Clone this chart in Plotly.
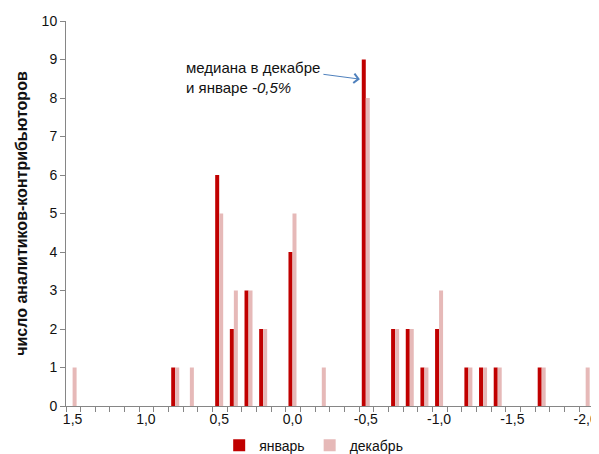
import plotly.graph_objects as go

# Forecast values (x axis, reversed) and number of analysts
x_vals = [1.5, 0.8, 0.7, 0.5, 0.4, 0.3, 0.2, 0.0, -0.2, -0.5, -0.7, -0.8, -0.9, -1.0, -1.2, -1.3, -1.4, -1.7, -2.0]
jan = [0, 1, 0, 6, 2, 3, 2, 4, 0, 9, 2, 2, 1, 2, 1, 1, 1, 1, 0]
dec = [1, 1, 1, 5, 3, 3, 2, 5, 1, 8, 2, 2, 1, 3, 1, 1, 1, 1, 1]

tick_vals = [1.5, 1.0, 0.5, 0.0, -0.5, -1.0, -1.5, -2.0]
tick_text = ["1,5", "1,0", "0,5", "0,0", "-0,5", "-1,0", "-1,5", "-2,0"]

series_names = ["январь", "декабрь"]
colors = ["#C00000", "#E6B9B8"]

FONT = "Liberation Sans, Arial, sans-serif"
W = 0.0273

fig = go.Figure()
fig.add_trace(go.Bar(x=x_vals, y=jan, name=series_names[0], width=W, offset=0,
                     marker=dict(color=colors[0], line=dict(width=0))))
fig.add_trace(go.Bar(x=x_vals, y=dec, name=series_names[1], width=W, offset=-W,
                     marker=dict(color=colors[1], line=dict(width=0))))

fig.update_layout(
    width=591, height=446,
    margin=dict(l=58, r=6, t=13, b=48, autoexpand=False),
    paper_bgcolor="white", plot_bgcolor="white",
    barmode="overlay",
    font=dict(family=FONT, size=14, color="#111"),
    showlegend=True,
    legend=dict(orientation="h", x=0.47, xanchor="center", y=-0.103, yanchor="middle",
                font=dict(size=14), itemwidth=30, traceorder="normal"),
    xaxis=dict(range=[1.545, -2.05], tickvals=tick_vals, ticktext=tick_text,
               ticks="", showline=True, linecolor="#868686", linewidth=1,
               showgrid=False, zeroline=False, tickfont=dict(size=14), automargin=False,
               minor=dict(ticks="outside", tick0=1.545, dtick=0.1, ticklen=5,
                          tickcolor="#868686", showgrid=False)),
    yaxis=dict(range=[0, 10], dtick=1, ticks="outside", ticklen=5, tickcolor="#868686",
               showline=True, linecolor="#868686", linewidth=1, showgrid=False,
               zeroline=False, tickfont=dict(size=14), automargin=False,
               title=dict(text="<b>число аналитиков-контрибьюторов</b>", font=dict(size=16),
                          standoff=10)),
)

fig.add_annotation(x=0.74, y=8.52, xref="x", yref="y", xanchor="left", yanchor="middle",
                   align="left", showarrow=False,
                   text="медиана в декабре<br>и январе <i>-0,5%</i>", font=dict(size=15))
fig.add_annotation(x=-0.46, y=8.49, xref="x", yref="y", text="", showarrow=True,
                   ax=-38, ay=-5, arrowcolor="#4F81BD", arrowwidth=1, arrowhead=4,
                   arrowsize=1.8)

fig.write_html("out.html")
